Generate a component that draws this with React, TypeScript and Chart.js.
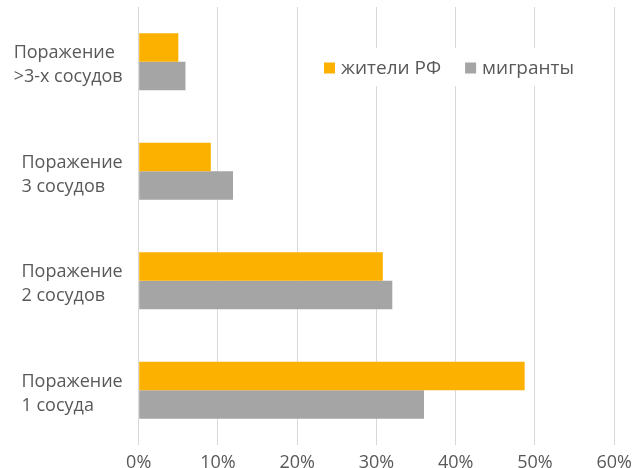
import { useEffect, useRef } from "react";
import { Chart, registerables } from "chart.js";

Chart.register(...registerables);

// Category labels (top to bottom), each split into lines
const categories: string[][] = [
  ["Поражение", ">3-х сосудов"],
  ["Поражение", "3 сосудов"],
  ["Поражение", "2 сосудов"],
  ["Поражение", "1 сосуда"],
];

const seriesNames = ["жители РФ", "мигранты"];
const residents = [5.0, 9.1, 30.8, 48.7];
const migrants = [5.9, 11.9, 32.0, 36.0];
const xTicks = [0, 10, 20, 30, 40, 50, 60];

const ORANGE = "#FCB100";
const GRAY = "#A5A5A5";
const TEXT = "#595959";
const GRID = "#D9D9D9";
const FONT = '"Open Sans", "Noto Sans", sans-serif';
const FONT_SIZE = 18;

// Multi-line category labels: block right-aligned to the plot, lines left-aligned
const categoryLabels = {
  id: "categoryLabels",
  afterDraw(chart: any) {
    const { ctx, chartArea } = chart;
    const yScale = chart.scales.y;
    const lineH = 24;
    const gap = 16;
    const nudge = 3.5;
    ctx.save();
    ctx.font = `${FONT_SIZE}px ${FONT}`;
    ctx.fillStyle = TEXT;
    ctx.textAlign = "left";
    ctx.textBaseline = "middle";
    categories.forEach((lines, i) => {
      const cy = yScale.getPixelForValue(i) + nudge;
      const w = Math.max(...lines.map((l) => ctx.measureText(l).width));
      const x0 = chartArea.left - gap - w;
      lines.forEach((l, j) => {
        ctx.fillText(l, x0, cy + (j - (lines.length - 1) / 2) * lineH);
      });
    });
    ctx.restore();
  },
};

// Legend placed inside the plot area with a white backing box
const insideLegend = {
  id: "insideLegend",
  afterDatasetsDraw(chart: any) {
    const { ctx } = chart;
    const cy = 69;
    let x = 324;
    const box = 11;
    ctx.save();
    ctx.font = `19px ${FONT}`;
    ctx.fillStyle = "#FFFFFF";
    ctx.fillRect(312, 48, 280, 38);
    ctx.textAlign = "left";
    ctx.textBaseline = "middle";
    chart.data.datasets.forEach((ds: any) => {
      ctx.fillStyle = ds.backgroundColor;
      ctx.fillRect(x, cy - box / 2 - 1, box, box);
      x += box + 6;
      ctx.fillStyle = TEXT;
      ctx.fillText(ds.label, x, cy);
      x += ctx.measureText(ds.label).width + 24;
    });
    ctx.restore();
  },
};

export default function App() {
  const canvasRef = useRef<HTMLCanvasElement | null>(null);

  useEffect(() => {
    if (!canvasRef.current) return;
    const chart = new Chart(canvasRef.current, {
      type: "bar",
      data: {
        labels: categories.map((c) => c.join(" ")),
        datasets: [
          {
            label: seriesNames[0],
            data: residents,
            backgroundColor: ORANGE,
            borderWidth: 0,
          },
          {
            label: seriesNames[1],
            data: migrants,
            backgroundColor: GRAY,
            borderWidth: 0,
          },
        ],
      },
      options: {
        indexAxis: "y",
        responsive: false,
        animation: false,
        layout: { padding: { left: 138.7, right: 24.8, top: 7, bottom: 0 } },
        datasets: {
          bar: { categoryPercentage: 0.52, barPercentage: 1.0 },
        },
        scales: {
          x: {
            min: xTicks[0],
            max: xTicks[xTicks.length - 1],
            afterBuildTicks: (scale: any) => {
              scale.ticks = xTicks.map((v) => ({ value: v }));
            },
            afterFit: (scale: any) => {
              scale.height = 23;
              scale.paddingLeft = 0;
              scale.paddingRight = 0;
            },
            grid: { color: GRID, lineWidth: 1, drawTicks: false },
            border: { display: false },
            ticks: {
              color: TEXT,
              padding: 7,
              font: { family: FONT, size: FONT_SIZE },
              callback: (v: any) => `${v}%`,
            },
          },
          y: {
            display: false,
          },
        },
        plugins: {
          legend: { display: false },
          tooltip: { enabled: false },
        },
      },
      plugins: [categoryLabels, insideLegend],
    });
    return () => chart.destroy();
  }, []);

  return (
    <div style={{ position: "fixed", left: 0, top: 0, width: 639, height: 468, background: "#fff" }}>
      <canvas ref={canvasRef} width={639} height={468} style={{ display: "block" }} />
    </div>
  );
}
